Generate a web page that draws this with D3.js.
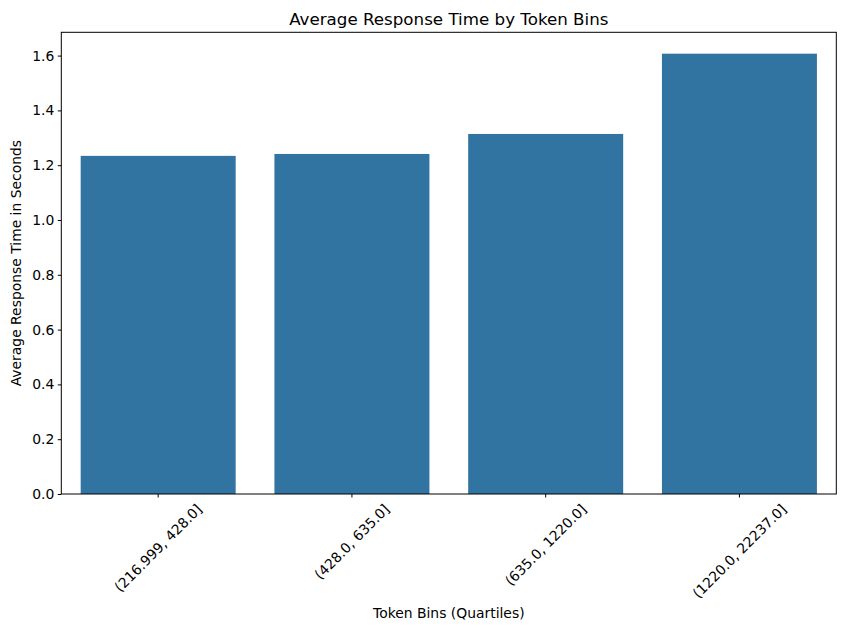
<!DOCTYPE html>
<html>
<head>
<meta charset="utf-8">
<script src="https://cdn.jsdelivr.net/npm/d3@7"></script>
<style>
  body { margin: 0; background: #fff; }
  svg { font-family: "DejaVu Sans", sans-serif; }
</style>
</head>
<body>
<svg id="chart" width="846" height="631"></svg>
<script>
const categories = ['(216.999, 428.0]', '(428.0, 635.0]', '(635.0, 1220.0]', '(1220.0, 22237.0]'];
const avgResponse = [1.234, 1.241, 1.314, 1.607];
const yTicks = [0, 0.2, 0.4, 0.6, 0.8, 1.0, 1.2, 1.4, 1.6];

const margin = { top: 32.3, right: 9.7, bottom: 137, left: 61.3 };
const width = 846;
const height = 631;

const x = d3
  .scaleBand()
  .domain(categories)
  .range([margin.left, width - margin.right])
  .paddingInner(0.2)
  .paddingOuter(0.1);

const y = d3
  .scaleLinear()
  .domain([0, 1.685])
  .range([height - margin.bottom, margin.top]);

const svg = d3.select('#chart');

svg
  .append('g')
  .selectAll('rect')
  .data(categories)
  .join('rect')
  .attr('x', (d) => x(d))
  .attr('width', x.bandwidth())
  .attr('y', (d, i) => y(avgResponse[i]))
  .attr('height', (d, i) => y(0) - y(avgResponse[i]))
  .attr('fill', '#3274a1');

// frame
svg
  .append('rect')
  .attr('x', margin.left)
  .attr('y', margin.top)
  .attr('width', width - margin.left - margin.right)
  .attr('height', height - margin.top - margin.bottom)
  .attr('fill', 'none')
  .attr('stroke', '#000')
  .attr('stroke-width', 1);

const yAxis = (g) =>
  g
    .attr('transform', `translate(${margin.left},0)`)
    .call(d3.axisLeft(y).tickValues(yTicks).tickFormat(d3.format('.1f')).tickSize(3.5).tickPadding(3.5))
    .call((g) => g.select('.domain').remove())
    .call((g) => g.selectAll('.tick line').attr('stroke', '#000'))
    .call((g) => g.selectAll('.tick text').attr('font-size', 13.9).attr('fill', '#000').attr('font-family', 'DejaVu Sans'));

const xAxis = (g) =>
  g
    .attr('transform', `translate(0,${height - margin.bottom})`)
    .call(d3.axisBottom(x).tickSize(3.5).tickSizeOuter(0))
    .call((g) => g.select('.domain').remove())
    .call((g) => g.selectAll('.tick line').attr('stroke', '#000'))
    .call((g) => g.selectAll('.tick text').remove());

svg.append('g').call(yAxis);
const xg = svg.append('g').call(xAxis);

// rotated labels, centred on the tick like matplotlib rotation=45
xg.selectAll('.tick').each(function (d) {
  const t = d3
    .select(this)
    .append('text')
    .attr('font-size', 13.9)
    .attr('font-family', 'DejaVu Sans')
    .attr('fill', '#000')
    .attr('text-anchor', 'middle')
    .attr('dy', '0.35em')
    .text(d);
  const w = t.node().getComputedTextLength();
  const h = 13.9 * 1.15;
  const half = ((w + h) * Math.SQRT1_2) / 2;
  t.attr('transform', `translate(0,${3.5 + 3.5 + half}) rotate(-45)`);
});

svg
  .append('text')
  .attr('x', (margin.left + width - margin.right) / 2)
  .attr('y', 25)
  .attr('text-anchor', 'middle')
  .attr('font-size', 16.7)
  .text('Average Response Time by Token Bins');

svg
  .append('text')
  .attr('x', (margin.left + width - margin.right) / 2)
  .attr('y', 618)
  .attr('text-anchor', 'middle')
  .attr('font-size', 13.9)
  .text('Token Bins (Quartiles)');

svg
  .append('text')
  .attr('transform', `translate(21,${(margin.top + height - margin.bottom) / 2}) rotate(-90)`)
  .attr('text-anchor', 'middle')
  .attr('font-size', 13.9)
  .text('Average Response Time in Seconds');
</script>
</body>
</html>
